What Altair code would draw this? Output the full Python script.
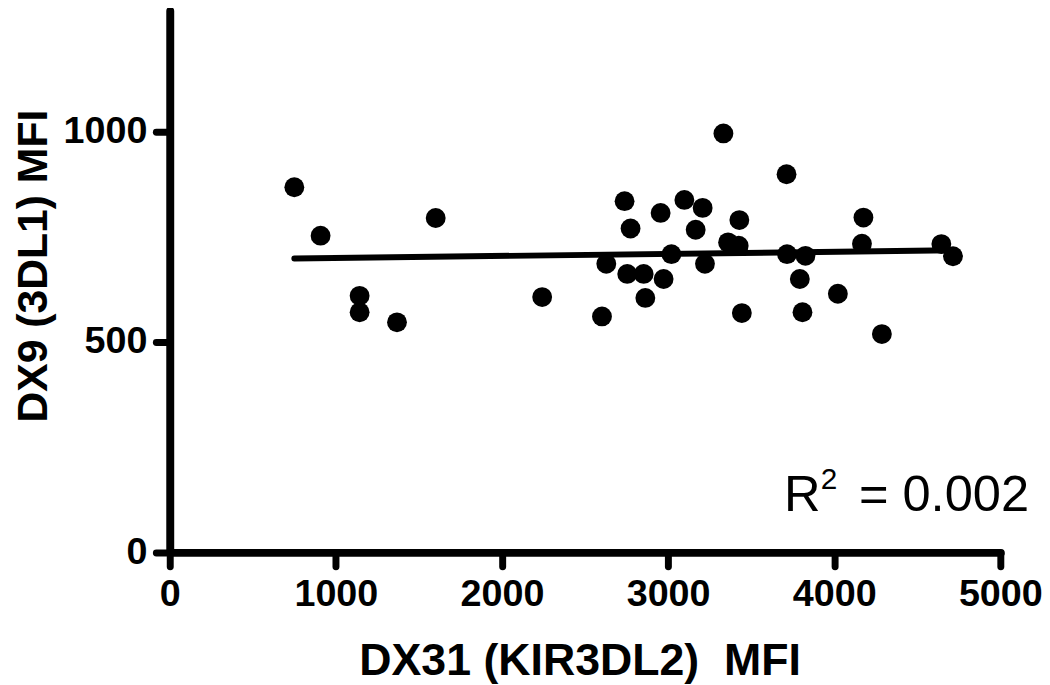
import altair as alt
import pandas as pd

# DX31 (KIR3DL2) MFI values
dx31 = [750, 908, 1601, 1143, 1143, 1368, 2242, 2602, 2628, 2738, 2774, 2754,
        2853, 2863, 2955, 2973, 3020, 3098, 3208, 3166, 3222, 3333, 3361, 3425,
        3429, 3444, 3713, 3716, 3793, 3827, 3809, 4022, 4176, 4167, 4287, 4645, 4715]
# DX9 (3DL1) MFI values
dx9 = [868, 753, 795, 610, 571, 547, 607, 561, 686, 835, 770, 662,
       662, 605, 807, 650, 709, 838, 819, 767, 686, 996, 737, 729,
       790, 569, 899, 709, 650, 705, 571, 615, 796, 734, 519, 733, 704]

x_ticks = [0, 1000, 2000, 3000, 4000, 5000]
y_ticks = [0, 500, 1000]
r2_label = "0.002"

df = pd.DataFrame({"dx31": dx31, "dx9": dx9})

FONT = "Liberation Sans"

x_enc = alt.X(
    "dx31:Q",
    scale=alt.Scale(domain=[0, 5000], nice=False),
    axis=alt.Axis(
        values=x_ticks, format="d", grid=False,
        title="DX31 (KIR3DL2)\u00a0 MFI",
        domainColor="black", domainWidth=8, domainCap="round",
        tickColor="black", tickWidth=7, tickSize=14, tickCap="round",
        labelFont=FONT, labelFontSize=38, labelFontWeight="bold", labelColor="black",
        labelPadding=10, labelFlush=False,
        titleFont=FONT, titleFontSize=45, titleFontWeight="bold", titleColor="black",
        titleX=413, titleY=123, titleBaseline="alphabetic", titleAlign="center",
    ),
)
y_enc = alt.Y(
    "dx9:Q",
    scale=alt.Scale(domain=[0, 1288], nice=False),
    axis=alt.Axis(
        values=y_ticks, format="d", grid=False,
        title="DX9 (3DL1) MFI",
        domainColor="black", domainWidth=8, domainCap="round",
        tickColor="black", tickWidth=7, tickSize=14, tickCap="round",
        labelFont=FONT, labelFontSize=38, labelFontWeight="bold", labelColor="black",
        labelPadding=9, labelFlush=False,
        titleFont=FONT, titleFontSize=43, titleFontWeight="bold", titleColor="black",
        titleX=-124, titleY=257, titleAngle=-90, titleBaseline="alphabetic",
        titleAlign="center",
    ),
)

base = alt.Chart(df)

fit = base.transform_regression("dx31", "dx9").mark_line(
    color="black", strokeWidth=6, strokeCap="round"
).encode(x=x_enc, y=y_enc)

pts = base.mark_circle(color="black", opacity=1, size=400).encode(x=x_enc, y=y_enc)

one = pd.DataFrame({"k": [0]})
r_txt = alt.Chart(one).mark_text(
    font=FONT, fontSize=51, align="left", baseline="alphabetic", color="black"
).encode(x=alt.value(619), y=alt.value(504), text=alt.value("R"))
sup_txt = alt.Chart(one).mark_text(
    font=FONT, fontSize=30, align="left", baseline="alphabetic", color="black"
).encode(x=alt.value(656), y=alt.value(482), text=alt.value("2"))
val_txt = alt.Chart(one).mark_text(
    font=FONT, fontSize=51, align="right", baseline="alphabetic", color="black"
).encode(x=alt.value(866), y=alt.value(504), text=alt.value("= " + r2_label))

chart = alt.layer(fit, pts, r_txt, sup_txt, val_txt).properties(
    width=837,
    height=546,
    padding={"left": 163, "top": 0, "right": 42, "bottom": 131},
    autosize=alt.AutoSizeParams(type="none"),
    background="white",
).configure_view(stroke=None)

chart.save("out.html", embed_options={"renderer": "svg", "actions": False})
